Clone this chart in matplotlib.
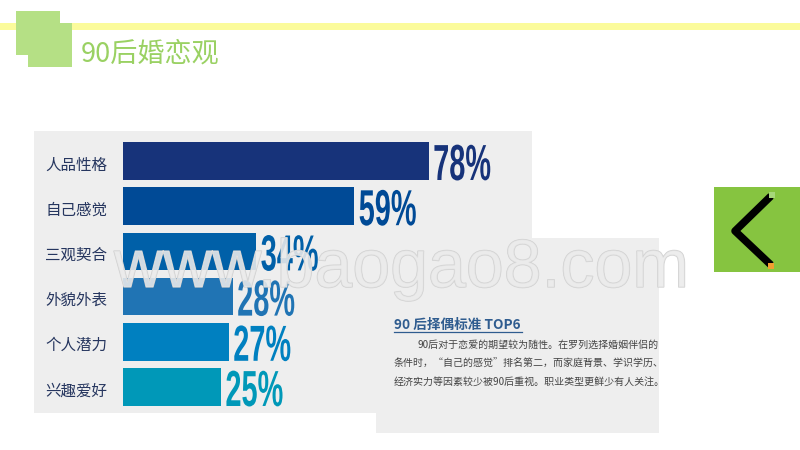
import matplotlib
matplotlib.use("Agg")
import matplotlib.pyplot as plt
from matplotlib.patches import Rectangle
from matplotlib.patheffects import AbstractPathEffect, Stroke, Normal
from matplotlib.transforms import Affine2D, ScaledTranslation

categories = ["人品性格", "自己感觉", "三观契合", "外貌外表", "个人潜力", "兴趣爱好"]
values = [78, 59, 34, 28, 27, 25]
bar_colors = ["#17337a", "#004a96", "#0060a8", "#2074b4", "#0080c0", "#0098b8"]
title_text = "90后婚恋观"
note_title = "90 后择偶标准 TOP6"
note_lines = ["90后对于恋爱的期望较为随性。在罗列选择婚姻伴侣的",
              "条件时，“自己的感觉”排名第二，而家庭背景、学识学历、",
              "经济实力等因素较少被90后重视。职业类型更鲜少有人关注。"]
watermark = "www.baogao8.com"

CJK = "Noto Sans CJK SC"


class Squeeze(AbstractPathEffect):
    """Draw a text's glyphs narrower, about its own origin."""
    def __init__(self, sx):
        super().__init__()
        self.sx = sx

    def draw_path(self, renderer, gc, tpath, affine, rgbFace=None):
        renderer.draw_path(gc, tpath, Affine2D().scale(self.sx, 1) + affine, rgbFace)


fig = plt.figure(figsize=(8, 4.5), dpi=100, facecolor="white")
bg = fig.add_axes([0, 0, 1, 1], zorder=0)
bg.set_xlim(0, 800)
bg.set_ylim(450, 0)
bg.axis("off")


def rect(ax, x0, y0, x1, y1, color, z=1):
    ax.add_patch(Rectangle((x0, y0), x1 - x0, y1 - y0, fc=color, ec="none", zorder=z))


# header decoration
rect(bg, 0, 23, 800, 30, "#fbfb9b", 1)
rect(bg, 16, 11, 60, 55, "#b5e085", 2)
rect(bg, 28, 23, 72, 67, "#b5e085", 2)
bg.text(81, 54, title_text, family=[CJK], fontsize=19.5, color="#9ad163",
        va="center", ha="left", fontweight="light", zorder=3)

# chart panel
rect(bg, 34, 131, 532, 413, "#eeeeee", 1)

# right side arrow box
rect(bg, 714, 187, 800, 272, "#86c440", 1)
bg.plot([771, 735, 771], [196, 231, 265], color="black", lw=5.4,
        solid_joinstyle="round", solid_capstyle="butt", zorder=2)
rect(bg, 769, 192, 775, 198, "#a6d77a", 3)
rect(bg, 768, 263, 774, 269, "#f0a030", 3)

# bar chart
PX_PER_UNIT = 3.92
TOP, BOTTOM = 131, 413
ROW0, STEP = 161.0, 45.2
ax = fig.add_axes([123 / 800, 1 - BOTTOM / 450, 100 * PX_PER_UNIT / 800, (BOTTOM - TOP) / 450],
                  zorder=1)
ax.patch.set_alpha(0)
ax.set_xlim(0, 100)
ax.set_ylim((BOTTOM - ROW0) / STEP, (TOP - ROW0) / STEP)
ax.barh(range(len(values)), values, height=0.83, color=bar_colors)
ax.set_yticks(range(len(categories)), categories, family=[CJK], fontsize=11.2, color="#26365f",
              va="center_baseline")
ax.tick_params(axis="y", length=0, pad=11.5)
shift = ScaledTranslation(0, -2 / 100, fig.dpi_scale_trans)
for lab in ax.get_yticklabels():
    lab.set_transform(lab.get_transform() + shift)
ax.xaxis.set_visible(False)
for s in ax.spines.values():
    s.set_visible(False)
for i, v in enumerate(values):
    ax.annotate(f"{v}%", (v, i), xytext=(3.2, 0), textcoords="offset points",
                family=["Liberation Sans"], fontweight="bold", fontsize=36.5,
                color=bar_colors[i], ha="left", va="center_baseline",
                path_effects=[Squeeze(0.57)], annotation_clip=False)

# text panel
top = fig.add_axes([0, 0, 1, 1], zorder=2)
top.set_xlim(0, 800)
top.set_ylim(450, 0)
top.axis("off")
rect(top, 376, 238, 659, 433, "#eeeeee", 1)
top.text(394, 325, note_title, family=[CJK], fontweight="bold", fontsize=9.8,
         color="#2f5c8f", va="center", ha="left", zorder=2)
top.plot([394, 522], [332, 332], color="#2f5c8f", lw=0.9, zorder=2)
clip = Rectangle((376, 238), 283, 195, transform=top.transData)
for x, y, line in zip([418, 394, 394], [345, 364, 382], note_lines):
    t = top.text(x, y, line, family=[CJK], fontsize=7.2, color="#444444",
                 va="center", ha="left", zorder=2)
    t.set_clip_path(clip)

# watermark
top.text(114, 287, watermark, family=["Liberation Sans"], fontsize=49,
         color=(0.92, 0.92, 0.92, 0.66), va="baseline", ha="left", zorder=5,
         path_effects=[Stroke(linewidth=0.9, foreground="#d0d0d0"), Normal()])

fig.savefig("out.png", dpi=100)
